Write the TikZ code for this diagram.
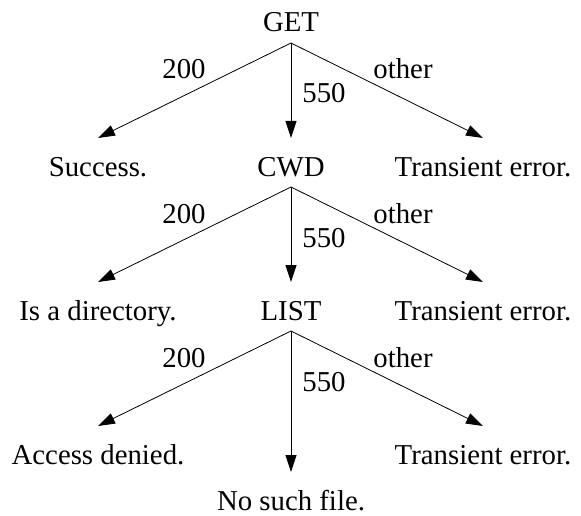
\documentclass[tikz,border=0pt]{standalone}
\usepackage{fontspec}
\setmainfont{Liberation Serif}
\usetikzlibrary{arrows.meta}
\begin{document}
\begin{tikzpicture}[x=1pt,y=-1pt,
  txt/.style={anchor=base,inner sep=0pt,outer xsep=0pt,outer ysep=11pt,text height=27pt,text depth=0pt,font=\fontsize{28.8}{34}\selectfont},
  lbl/.style={anchor=base,inner sep=0pt,font=\fontsize{28.8}{34}\selectfont},
  arr/.style={line width=0.8pt,-{Triangle[length=17pt,width=11pt]}}]
\useasboundingbox (0,0) rectangle (581,516);
% level 0
\node[txt] (get) at (291,32) {GET};
% level 1
\node[txt] (succ) at (98,176) {Success.};
\node[txt] (cwd) at (291,176) {CWD};
\node[txt] (te1) at (483,176) {Transient error.};
% level 2
\node[txt] (dir) at (98,320) {Is a directory.};
\node[txt] (list) at (291,320) {LIST};
\node[txt] (te2) at (483,320) {Transient error.};
% level 3
\node[txt] (acc) at (98,464) {Access denied.};
\node[txt] (nsf) at (291,510) {No such file.};
\node[txt] (te3) at (483,464) {Transient error.};
% arrows
\draw[arr] (get.south) -- (succ.north);
\draw[arr] (get.south) -- (cwd.north);
\draw[arr] (get.south) -- (te1.north);
\draw[arr] (cwd.south) -- (dir.north);
\draw[arr] (cwd.south) -- (list.north);
\draw[arr] (cwd.south) -- (te2.north);
\draw[arr] (list.south) -- (acc.north);
\draw[arr] (list.south) -- (nsf.north);
\draw[arr] (list.south) -- (te3.north);
% labels
\node[lbl] (l1a) at (184,79) {200};
\node[lbl] (l1b) at (324,103) {550};
\node[lbl] (l1c) at (403,79) {other};
\node[lbl] (l2a) at (184,223) {200};
\node[lbl] (l2b) at (324,247) {550};
\node[lbl] (l2c) at (403,223) {other};
\node[lbl] (l3a) at (184,367) {200};
\node[lbl] (l3b) at (324,391) {550};
\node[lbl] (l3c) at (403,367) {other};
\end{tikzpicture}
\end{document}
